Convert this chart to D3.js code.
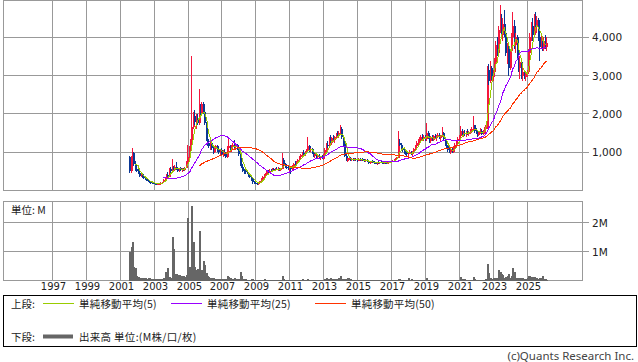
<!DOCTYPE html>
<html>
<head>
<meta charset="utf-8">
<script src="https://cdn.jsdelivr.net/npm/d3@7"></script>
<style>
  body { margin: 0; background: #fff; }
  svg { display: block; }
  text { font-family: "DejaVu Sans", sans-serif; fill: #222; }
  .jp { font-family: "Noto Sans CJK JP", sans-serif; }
</style>
</head>
<body>
<div id="container"></div>
<script>
const w = 638
const h = 362

// monthly candles, first one is July 2001
const firstMonth = '2001-07'

const open = [
  880, 500, 650, 980, 680, 560,
  520, 450, 380, 420, 350, 320, 290, 260, 250, 215, 200, 190,
  175, 165, 160, 175, 180, 200, 210, 280, 330, 400, 360, 560,
  500, 600, 540, 620, 580, 500, 580, 540, 560, 530, 600, 740,
  880, 1100, 1300, 1650, 1950, 1800, 1900, 1750, 2100, 2000, 2250, 2050,
  1750, 1350, 1250, 1150, 1250, 1100, 1050, 1100, 1150, 1050, 1000, 1050,
  950, 1000, 940, 880, 1100, 1150, 1050, 1150, 1200, 1150, 1200, 1100,
  950, 700, 620, 520, 500, 480, 440, 380, 340, 290, 230, 200,
  180, 170, 190, 250, 300, 350, 400, 430, 500, 480, 520, 500,
  560, 530, 560, 540, 580, 540, 560, 800, 700, 620, 600, 560,
  600, 560, 640, 700, 680, 760, 800, 880, 920, 980, 940, 1000,
  1050, 1150, 1050, 1080, 980, 900, 940, 880, 900, 850, 880, 830,
  940, 1050, 1200, 1150, 1350, 1250, 1380, 1320, 1400, 1450, 1420, 1500,
  1600, 1400, 1250, 900, 800, 800, 840, 800, 830, 790, 820, 800,
  780, 820, 780, 810, 790, 770, 800, 760, 720, 740, 760, 740,
  720, 700, 730, 710, 740, 720, 700, 730, 710, 720, 740, 760,
  760, 780, 800, 820, 850, 1250, 1200, 1100, 1050, 1000, 980, 950,
  970, 1000, 950, 1000, 1080, 1150, 1250, 1300, 1300, 1400, 1350, 1400,
  1350, 1500, 1380, 1300, 1400, 1320, 1420, 1380, 1420, 1460, 1380, 1420,
  1500, 1350, 1200, 1150, 1050, 1000, 1050, 1000, 1100, 1200, 1280, 1350,
  1420, 1550, 1450, 1500, 1480, 1530, 1470, 1520, 1560, 1600, 1700, 1550,
  1520, 1450, 1530, 1560, 1480, 1550, 1600, 1650, 3150, 2850, 3200, 2950,
  3100, 3350, 3800, 3600, 4200, 4450, 4050, 4350, 4100, 3600, 3750, 3200,
  3650, 4000, 4300, 3800, 4000, 3500, 3200, 3350, 3000, 3100, 2950, 3050,
  3100, 3600, 4000, 4300, 4050, 4450, 4300, 4450, 4000, 3750, 3950, 3700,
  3900, 3750
]

const high = [
  900, 900, 1120, 1000, 760, 620,
  560, 480, 440, 440, 370, 340, 300, 280, 260, 230, 220, 200,
  190, 180, 190, 200, 210, 230, 300, 350, 440, 470, 600, 620,
  815, 650, 660, 745, 600, 600, 620, 580, 600, 620, 760, 1180,
  1150, 1350, 3500, 2050, 2100, 2000, 2000, 2660, 2250, 2320, 2320, 2100,
  1800, 1450, 1350, 1300, 1280, 1200, 1150, 1200, 1180, 1100, 1080, 1100,
  1050, 1080, 1000, 1150, 1370, 1200, 1200, 1250, 1320, 1250, 1220, 1150,
  980, 760, 650, 560, 540, 500, 460, 400, 360, 300, 250, 230,
  200, 220, 260, 320, 380, 420, 460, 540, 540, 560, 560, 600,
  600, 580, 620, 620, 600, 600, 990, 850, 720, 660, 640, 620,
  640, 660, 720, 760, 780, 820, 900, 960, 1000, 1060, 1020, 1080,
  1385, 1200, 1120, 1100, 1000, 960, 980, 920, 940, 900, 920, 960,
  1100, 1250, 1300, 1400, 1450, 1400, 1460, 1420, 1500, 1550, 1550, 1720,
  1650, 1450, 1300, 950, 860, 860, 880, 850, 860, 840, 860, 830,
  840, 850, 830, 840, 820, 810, 820, 790, 760, 780, 790, 770,
  750, 740, 760, 750, 770, 740, 740, 750, 740, 760, 780, 780,
  800, 820, 850, 880, 1545, 1350, 1250, 1150, 1100, 1060, 1020, 1000,
  1050, 1040, 1020, 1100, 1200, 1280, 1350, 1400, 1450, 1480, 1450, 1460,
  1750, 1550, 1450, 1420, 1450, 1460, 1480, 1450, 1500, 1500, 1450, 1650,
  1520, 1380, 1250, 1200, 1100, 1080, 1100, 1150, 1250, 1300, 1400, 1450,
  1680, 1600, 1550, 1580, 1560, 1600, 1550, 1600, 1650, 1940, 1720, 1620,
  1580, 1550, 1620, 1600, 1580, 1650, 1700, 3250, 3300, 3380, 3250, 3150,
  3450, 3900, 4000, 4300, 4840, 4600, 4500, 4700, 4150, 3850, 3800, 3700,
  4100, 4650, 4450, 4100, 4050, 3650, 3500, 3400, 3200, 3150, 3100, 3150,
  3700, 4100, 4400, 4500, 4600, 4650, 4550, 4500, 4100, 4050, 4000, 4000,
  4050, 4000
]

const low = [
  450, 450, 600, 640, 520, 480,
  430, 360, 340, 330, 300, 270, 240, 220, 200, 180, 170, 160,
  150, 140, 145, 160, 170, 185, 190, 260, 300, 340, 350, 450,
  480, 500, 500, 540, 480, 490, 520, 490, 510, 520, 580, 700,
  850, 950, 1250, 1600, 1700, 1600, 1700, 1700, 1950, 1950, 2000, 1700,
  1300, 1150, 1100, 1050, 1050, 950, 980, 1000, 1000, 950, 920, 900,
  880, 900, 850, 860, 1050, 1000, 1000, 1050, 1100, 1050, 1050, 900,
  650, 580, 480, 440, 440, 420, 360, 320, 260, 180, 170, 160,
  150, 150, 180, 240, 290, 330, 380, 410, 450, 450, 480, 470,
  500, 500, 530, 520, 500, 520, 550, 650, 580, 560, 540, 500,
  440, 540, 620, 660, 660, 740, 780, 860, 880, 930, 900, 960,
  1000, 1000, 1000, 950, 880, 860, 860, 820, 830, 800, 810, 800,
  900, 1000, 1100, 1120, 1200, 1180, 1300, 1250, 1350, 1380, 1380, 1450,
  1350, 1150, 880, 760, 750, 760, 780, 760, 770, 760, 780, 750,
  760, 760, 760, 770, 750, 740, 740, 700, 680, 710, 720, 700,
  680, 670, 700, 690, 710, 680, 680, 700, 690, 700, 710, 740,
  740, 760, 780, 800, 840, 1150, 1050, 1000, 950, 930, 900, 880,
  940, 920, 900, 960, 1050, 1100, 1200, 1250, 1250, 1300, 1300, 1300,
  1300, 1350, 1250, 1250, 1280, 1300, 1350, 1300, 1380, 1350, 1300, 1400,
  1300, 1150, 1100, 1000, 980, 960, 980, 980, 1080, 1150, 1250, 1300,
  1380, 1400, 1400, 1420, 1400, 1450, 1420, 1480, 1500, 1580, 1500, 1480,
  1400, 1420, 1480, 1450, 1460, 1500, 1500, 1600, 2750, 2800, 2880, 2850,
  2950, 3250, 3500, 3550, 4100, 3950, 3900, 4000, 3500, 3300, 3000, 3150,
  3550, 3900, 3700, 3600, 3400, 3100, 2900, 2900, 2850, 2900, 2850, 2950,
  3050, 3500, 3900, 3900, 4000, 4200, 4100, 3900, 3380, 3700, 3650, 3650,
  3700, 3650
]

const close = [
  500, 650, 980, 680, 560, 520,
  450, 380, 420, 350, 320, 290, 260, 250, 215, 200, 190, 175,
  165, 160, 175, 180, 200, 210, 280, 330, 400, 360, 560, 500,
  600, 540, 620, 580, 500, 580, 540, 560, 530, 600, 740, 880,
  1100, 1300, 1650, 1950, 1800, 1900, 1750, 2100, 2000, 2250, 2050, 1750,
  1350, 1250, 1150, 1250, 1100, 1050, 1100, 1150, 1050, 1000, 1050, 950,
  1000, 940, 880, 1100, 1150, 1050, 1150, 1200, 1150, 1200, 1100, 950,
  700, 620, 520, 500, 480, 440, 380, 340, 290, 230, 200, 180,
  170, 190, 250, 300, 350, 400, 430, 500, 480, 520, 500, 560,
  530, 560, 540, 580, 540, 560, 800, 700, 620, 600, 560, 600,
  560, 640, 700, 680, 760, 800, 880, 920, 980, 940, 1000, 1050,
  1150, 1050, 1080, 980, 900, 940, 880, 900, 850, 880, 830, 940,
  1050, 1200, 1150, 1350, 1250, 1380, 1320, 1400, 1450, 1420, 1500, 1600,
  1400, 1250, 900, 800, 800, 840, 800, 830, 790, 820, 800, 780,
  820, 780, 810, 790, 770, 800, 760, 720, 740, 760, 740, 720,
  700, 730, 710, 740, 720, 700, 730, 710, 720, 740, 760, 760,
  780, 800, 820, 850, 1250, 1200, 1100, 1050, 1000, 980, 950, 970,
  1000, 950, 1000, 1080, 1150, 1250, 1300, 1300, 1400, 1350, 1400, 1350,
  1500, 1380, 1300, 1400, 1320, 1420, 1380, 1420, 1460, 1380, 1420, 1500,
  1350, 1200, 1150, 1050, 1000, 1050, 1000, 1100, 1200, 1280, 1350, 1420,
  1550, 1450, 1500, 1480, 1530, 1470, 1520, 1560, 1600, 1700, 1550, 1520,
  1450, 1530, 1560, 1480, 1550, 1600, 1650, 3150, 2850, 3200, 2950, 3100,
  3350, 3800, 3600, 4200, 4450, 4050, 4350, 4100, 3600, 3750, 3200, 3650,
  4000, 4300, 3800, 4000, 3500, 3200, 3350, 3000, 3100, 2950, 3050, 3100,
  3600, 4000, 4300, 4050, 4450, 4300, 4450, 4000, 3750, 3950, 3700, 3900,
  3750, 3850
]

// volume in millions
const volume = [
  0.99, 1.16, 1.34, 0.45, 0.42, 0.15,
  0.12, 0.10, 0.08, 0.08, 0.09, 0.07, 0.06, 0.07, 0.10, 0.06, 0.05, 0.06,
  0.05, 0.04, 0.05, 0.06, 0.05, 0.06, 0.10, 0.29, 0.15, 0.43, 0.12, 0.10,
  1.51, 1.10, 0.23, 0.22, 0.20, 0.18, 0.15, 0.14, 0.15, 0.12, 0.20, 2.15,
  0.47, 0.45, 2.56, 1.34, 0.45, 0.35, 0.40, 1.72, 0.30, 0.35, 0.66, 0.52,
  0.25, 0.15, 0.12, 0.10, 0.08, 0.08, 0.06, 0.06, 0.05, 0.06, 0.05, 0.06,
  0.05, 0.06, 0.06, 0.17, 0.12, 0.08, 0.06, 0.05, 0.08, 0.05, 0.04, 0.05,
  0.28, 0.14, 0.05, 0.04, 0.04, 0.03, 0.03, 0.03, 0.04, 0.04, 0.03, 0.03,
  0.02, 0.02, 0.03, 0.03, 0.03, 0.04, 0.02, 0.02, 0.02, 0.02, 0.02, 0.02,
  0.02, 0.02, 0.02, 0.02, 0.02, 0.02, 0.14, 0.05, 0.02, 0.02, 0.02, 0.02,
  0.02, 0.02, 0.03, 0.02, 0.02, 0.02, 0.02, 0.03, 0.04, 0.02, 0.02, 0.02,
  0.04, 0.02, 0.02, 0.02, 0.02, 0.02, 0.02, 0.02, 0.02, 0.02, 0.02, 0.02,
  0.05, 0.08, 0.04, 0.06, 0.08, 0.05, 0.04, 0.04, 0.05, 0.06, 0.08, 0.15,
  0.05, 0.04, 0.05, 0.06, 0.10, 0.08, 0.04, 0.03, 0.03, 0.02, 0.02, 0.03,
  0.02, 0.02, 0.02, 0.02, 0.02, 0.02, 0.02, 0.02, 0.02, 0.02, 0.02, 0.02,
  0.01, 0.01, 0.02, 0.01, 0.01, 0.02, 0.01, 0.01, 0.01, 0.02, 0.01, 0.02,
  0.01, 0.01, 0.02, 0.03, 0.06, 0.05, 0.03, 0.02, 0.02, 0.02, 0.03, 0.08,
  0.02, 0.04, 0.02, 0.02, 0.02, 0.02, 0.02, 0.02, 0.02, 0.02, 0.02, 0.02,
  0.08, 0.03, 0.02, 0.02, 0.02, 0.02, 0.02, 0.02, 0.02, 0.02, 0.02, 0.03,
  0.02, 0.02, 0.03, 0.02, 0.02, 0.02, 0.02, 0.02, 0.02, 0.02, 0.02, 0.02,
  0.12, 0.05, 0.04, 0.05, 0.03, 0.02, 0.02, 0.02, 0.03, 0.12, 0.04, 0.02,
  0.03, 0.02, 0.03, 0.02, 0.02, 0.03, 0.06, 0.58, 0.27, 0.10, 0.05, 0.10,
  0.06, 0.08, 0.10, 0.38, 0.30, 0.22, 0.20, 0.10, 0.12, 0.17, 0.23, 0.10,
  0.15, 0.42, 0.30, 0.10, 0.08, 0.06, 0.10, 0.09, 0.07, 0.05, 0.06, 0.08,
  0.17, 0.14, 0.12, 0.12, 0.13, 0.10, 0.09, 0.06, 0.08, 0.10, 0.17, 0.06,
  0.05, 0.03
]

const priceTicks = [1000, 2000, 3000, 4000]
const volumeTicks = [1, 2]
const yearTicks = d3.range(1997, 2026, 2)
const maPeriods = [5, 25, 50]
const maLabels = ['単純移動平均(5)', '単純移動平均(25)', '単純移動平均(50)']

// styles
const maColors = ['#99cc00', '#9900ff', '#ff3300']
const upColor = '#f5163c'
const downColor = '#0a3896'
const gridColor = '#999'
const volColor = '#666'

const left = 3.5
const right = 582.5
const priceBox = { top: 0.5, bottom: 190.5 }
const volBox = { top: 201.5, bottom: 280.5 }

const months = d3.range(close.length).map(i => d3.utcMonth.offset(d3.utcParse('%Y-%m')(firstMonth), i))

const x = d3.scaleUtc()
  .domain([new Date(Date.UTC(1997, 0, 1)), new Date(Date.UTC(2025, 0, 1))])
  .range([52.3, 527.3])

const y = d3.scaleLinear().domain([0, 4970]).range([190.5, 0])
const yv = d3.scaleLinear().domain([0, 2.75]).range([280.5, 201])

const crisp = v => Math.round(v - 0.5) + 0.5
const cx = i => Math.round(x(d3.utcDay.offset(months[i], 14)))
const yearX = yr => crisp(x(new Date(Date.UTC(yr, 0, 1))))

function movingAverage (values, n) {
  return values.map((v, i) => i < n - 1 ? null : d3.mean(values.slice(i - n + 1, i + 1)))
}

const svg = d3.select('#container')
  .append('svg')
  .attr('width', w)
  .attr('height', h)

// ---------- grids ----------
function drawPanel (box, scale, ticks, fmt) {
  const g = svg.append('g').attr('shape-rendering', 'crispEdges')
  g.selectAll('line.v')
    .data(yearTicks)
    .enter().append('line')
    .attr('x1', d => yearX(d)).attr('x2', d => yearX(d))
    .attr('y1', box.top).attr('y2', box.bottom)
    .attr('stroke', gridColor)
  g.selectAll('line.h')
    .data(ticks)
    .enter().append('line')
    .attr('x1', left).attr('x2', right + 6)
    .attr('y1', d => crisp(scale(d))).attr('y2', d => crisp(scale(d)))
    .attr('stroke', gridColor)
  g.append('rect')
    .attr('x', left).attr('y', box.top)
    .attr('width', right - left).attr('height', box.bottom - box.top)
    .attr('fill', 'none')
    .attr('stroke', gridColor)
  svg.append('g').selectAll('text')
    .data(ticks)
    .enter().append('text')
    .attr('x', 592)
    .attr('y', d => scale(d) + 4)
    .style('font-size', '10.5px')
    .text(fmt)
  return g
}

drawPanel(priceBox, y, priceTicks, d3.format(','))
drawPanel(volBox, yv, volumeTicks, d => d + 'M')

// ---------- candles ----------
const candles = svg.append('g').attr('shape-rendering', 'crispEdges')
  .selectAll('g')
  .data(close)
  .enter().append('g')

candles.append('rect')
  .attr('x', (d, i) => cx(i))
  .attr('width', 1)
  .attr('y', (d, i) => y(high[i]))
  .attr('height', (d, i) => Math.max(1, y(low[i]) - y(high[i])))
  .attr('fill', (d, i) => d >= open[i] ? upColor : downColor)

candles.append('rect')
  .attr('x', (d, i) => cx(i) - 0.5)
  .attr('width', 2)
  .attr('y', (d, i) => y(Math.max(open[i], d)))
  .attr('height', (d, i) => Math.max(1, Math.abs(y(open[i]) - y(d))))
  .attr('fill', (d, i) => d >= open[i] ? upColor : downColor)

// ---------- moving averages ----------
maPeriods.forEach((n, k) => {
  const ma = movingAverage(close, n)
  svg.append('path')
    .datum(ma)
    .attr('fill', 'none')
    .attr('stroke', maColors[k])
    .attr('stroke-width', 1)
    .attr('shape-rendering', 'crispEdges')
    .attr('d', d3.line()
      .defined(d => d != null)
      .x((d, i) => cx(i) + 0.5)
      .y(d => y(d)))
})

// ---------- volume ----------
svg.append('g').attr('shape-rendering', 'crispEdges')
  .selectAll('rect')
  .data(volume)
  .enter().append('rect')
  .attr('x', (d, i) => cx(i) - 0.5)
  .attr('width', 2)
  .attr('y', d => yv(d))
  .attr('height', d => yv(0) - yv(d))
  .attr('fill', volColor)

svg.append('text')
  .attr('class', 'jp')
  .attr('x', 11)
  .attr('y', 214)
  .style('font-size', '10.5px')
  .text('単位: M')

// year labels
svg.append('g').selectAll('text')
  .data(yearTicks)
  .enter().append('text')
  .attr('x', d => yearX(d) + 1)
  .attr('y', 290)
  .style('text-anchor', 'middle')
  .style('font-size', '10px')
  .text(d => d)

// ---------- legend ----------
const legend = svg.append('g')

legend.append('rect')
  .attr('x', 3.5).attr('y', 295.5)
  .attr('width', 633).attr('height', 51)
  .attr('fill', 'none')
  .attr('stroke', '#000')
  .attr('shape-rendering', 'crispEdges')

legend.append('text')
  .attr('class', 'jp')
  .attr('x', 11).attr('y', 307.5)
  .style('font-size', '10.5px')
  .text('上段:')

const legendX = [43, 171, 315]
maLabels.forEach((label, k) => {
  legend.append('line')
    .attr('x1', legendX[k]).attr('x2', legendX[k] + 31)
    .attr('y1', 303.5).attr('y2', 303.5)
    .attr('stroke', maColors[k])
  legend.append('text')
    .attr('class', 'jp')
    .attr('x', legendX[k] + 36).attr('y', 307.5)
    .style('font-size', '10.5px')
    .style('letter-spacing', '0.2px')
    .text(label)
})

legend.append('text')
  .attr('class', 'jp')
  .attr('x', 11).attr('y', 340.5)
  .style('font-size', '10.5px')
  .text('下段:')

legend.append('rect')
  .attr('x', 43).attr('y', 334.5)
  .attr('width', 30).attr('height', 4)
  .attr('fill', volColor)

legend.append('text')
  .attr('class', 'jp')
  .attr('x', 79).attr('y', 340.5)
  .style('font-size', '10.5px')
  .style('letter-spacing', '0.3px')
  .text('出来高 単位:(M株/口/枚)')

svg.append('text')
  .attr('x', 634).attr('y', 360)
  .style('text-anchor', 'end')
  .style('font-family', '"Noto Sans", sans-serif')
  .style('font-size', '11.5px')
  .style('fill', '#444')
  .text('(c)Quants Research Inc.')
</script>
</body>
</html>
